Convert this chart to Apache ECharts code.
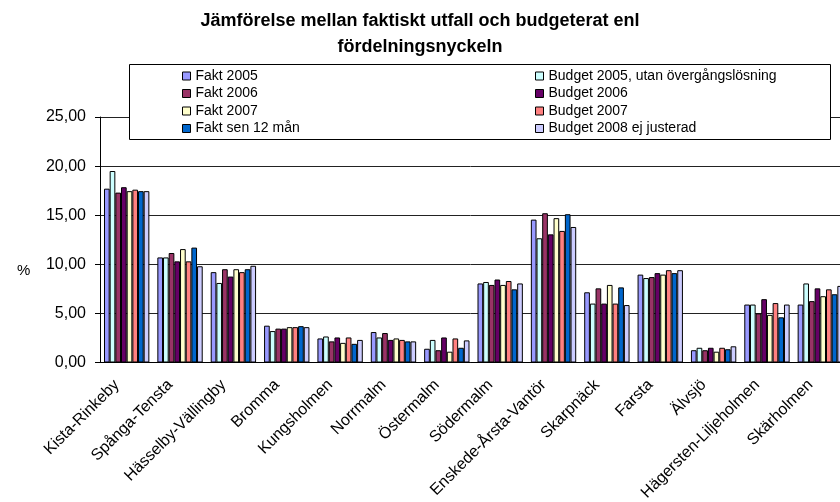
<!DOCTYPE html>
<html>
<head>
<meta charset="utf-8">
<script src="https://cdn.jsdelivr.net/npm/echarts@6/dist/echarts.min.js"></script>
<style>
  html, body { margin: 0; padding: 0; background: #fff; }
  #main { width: 840px; height: 502px; }
</style>
</head>
<body>
<div id="main"></div>
<script>
// stadsdelar
const districts = ['Kista-Rinkeby', 'Spånga-Tensta', 'Hässelby-Vällingby', 'Bromma', 'Kungsholmen',
    'Norrmalm', 'Östermalm', 'Södermalm', 'Enskede-Årsta-Vantör', 'Skarpnäck', 'Farsta',
    'Älvsjö', 'Hägersten-Liljeholmen', 'Skärholmen'];

// andel i procent
const fakt2005 = [17.7, 10.7, 9.2, 3.75, 2.45, 3.1, 1.4, 8.05, 14.55, 7.15, 8.95, 1.25, 5.9, 5.9];
const budget2005 = [19.5, 10.7, 8.1, 3.2, 2.65, 2.55, 2.3, 8.2, 12.65, 6.0, 8.6, 1.5, 5.9, 8.05];
const fakt2006 = [17.3, 11.15, 9.5, 3.45, 2.15, 3.0, 1.25, 7.9, 15.2, 7.55, 8.7, 1.25, 5.0, 6.25];
const budget2006 = [17.85, 10.3, 8.75, 3.45, 2.55, 2.3, 2.55, 8.45, 13.05, 6.0, 9.1, 1.5, 6.45, 7.55];
const fakt2007 = [17.45, 11.55, 9.5, 3.6, 2.0, 2.45, 1.1, 7.9, 14.7, 7.9, 8.95, 1.1, 4.85, 6.75];
const budget2007 = [17.6, 10.3, 9.2, 3.6, 2.55, 2.3, 2.45, 8.3, 13.4, 6.0, 9.4, 1.5, 6.05, 7.45];
const faktSen12 = [17.45, 11.7, 9.5, 3.7, 1.9, 2.15, 1.5, 7.45, 15.1, 7.65, 9.1, 1.35, 4.6, 6.95];
const budget2008 = [17.45, 9.8, 9.85, 3.6, 2.3, 2.15, 2.25, 8.05, 13.8, 5.85, 9.4, 1.65, 5.9, 7.8];

const seriesNames = ['Fakt 2005', 'Budget 2005, utan övergångslösning', 'Fakt 2006', 'Budget 2006',
    'Fakt 2007', 'Budget 2007', 'Fakt sen 12 mån', 'Budget 2008 ej justerad'];
const seriesData = [fakt2005, budget2005, fakt2006, budget2006, fakt2007, budget2007, faktSen12, budget2008];
const seriesColors = ['#9999FF', '#CCFFFF', '#993366', '#660066', '#FFFFCC', '#FF8080', '#0066CC', '#CCCCFF'];

var chartDom = document.getElementById('main');
var myChart = echarts.init(chartDom);
var option;

const font = 'Arial, "Liberation Sans", sans-serif';

const legendBase = {
    orient: 'vertical',
    top: 69,
    padding: 0,
    itemWidth: 8,
    itemHeight: 8,
    itemGap: 3.5,
    icon: 'rect',
    z: 5,
    itemStyle: { borderColor: '#000', borderWidth: 1 },
    textStyle: { fontFamily: font, fontSize: 14, lineHeight: 14, color: '#000' },
    selectedMode: false
};

option = {
    backgroundColor: '#fff',
    animation: false,
    color: seriesColors,
    title: {
        text: 'Jämförelse mellan faktiskt utfall och budgeterat enl\nfördelningsnyckeln',
        left: 'center',
        top: 8,
        padding: 0,
        textStyle: { fontFamily: font, fontSize: 18, fontWeight: 'bold', lineHeight: 26, color: '#000' }
    },
    graphic: [
        {
            type: 'rect',
            z: 3,
            shape: { x: 129.5, y: 64.5, width: 701, height: 75 },
            style: { fill: '#fff', stroke: '#000', lineWidth: 1 }
        },
        {
            type: 'text',
            left: 17,
            top: 263,
            style: { text: '%', font: '15px ' + font, fill: '#000' }
        }
    ],
    legend: [
        Object.assign({}, legendBase, { left: 182, data: ['Fakt 2005', 'Fakt 2006', 'Fakt 2007', 'Fakt sen 12 mån'] }),
        Object.assign({}, legendBase, { left: 535, data: ['Budget 2005, utan övergångslösning', 'Budget 2006', 'Budget 2007', 'Budget 2008 ej justerad'] })
    ],
    grid: {
        left: 100,
        top: 117,
        width: 747,
        bottom: 139.5,
        containLabel: false,
        outerBoundsMode: 'none'
    },
    xAxis: {
        type: 'category',
        data: districts,
        axisLine: { lineStyle: { color: '#000', width: 1 } },
        axisTick: { length: 7, lineStyle: { color: '#000' } },
        axisLabel: {
            interval: 0,
            rotate: 45,
            margin: 10,
            padding: [0, 14, 0, 0],
            fontFamily: font,
            fontSize: 16,
            color: '#000'
        }
    },
    yAxis: {
        type: 'value',
        min: 0,
        max: 25,
        interval: 5,
        axisLine: { show: true, lineStyle: { color: '#000', width: 1 } },
        axisTick: { show: true, length: 5, lineStyle: { color: '#000' } },
        axisLabel: {
            margin: 14,
            fontFamily: font,
            fontSize: 16,
            color: '#000',
            formatter: function (v) { return v.toFixed(2).replace('.', ','); }
        },
        splitLine: { lineStyle: { color: '#222', width: 1 } }
    },
    series: seriesNames.map(function (name, i) {
        return {
            name: name,
            type: 'bar',
            data: seriesData[i],
            barGap: '0%',
            barCategoryGap: '15%',
            itemStyle: { color: seriesColors[i], borderColor: '#000', borderWidth: 1 }
        };
    })
};

option && myChart.setOption(option);
</script>
</body>
</html>
